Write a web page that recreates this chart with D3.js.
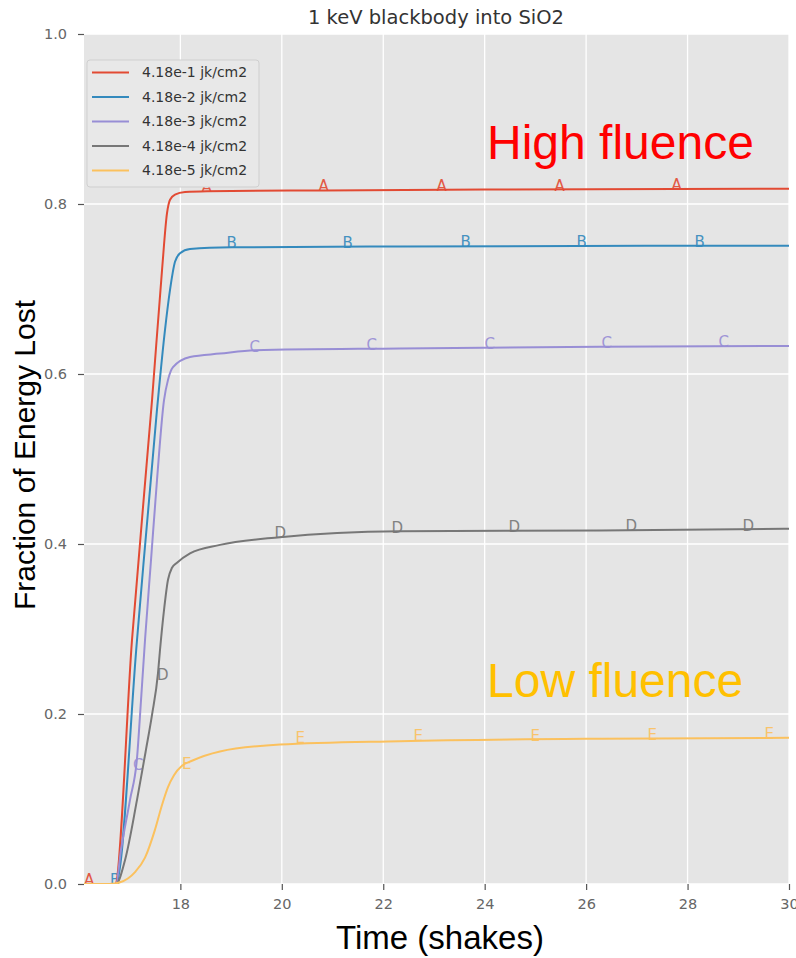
<!DOCTYPE html>
<html><head><meta charset="utf-8">
<script src="https://cdn.jsdelivr.net/npm/d3@7"></script>
<style>body{margin:0;background:#fff}svg{display:block}</style>
</head><body>
<script>
// ---- data ----
const seriesNames = ["A","B","C","D","E"];
const legendLabels = ["4.18e-1 jk/cm2","4.18e-2 jk/cm2","4.18e-3 jk/cm2","4.18e-4 jk/cm2","4.18e-5 jk/cm2"];
const colors = ["#E24A33","#348ABD","#988ED5","#777777","#FBC15E"];
const xTicks = [18,20,22,24,26,28,30];
const yTicks = [0.0,0.2,0.4,0.6,0.8,1.0];

const xA = [16.1,16.711,17.046,17.441,17.638,17.736,17.796,17.894,18.091,18.525,20.832,24.0,30.0];
const yA = [0,0,0.287,0.569,0.722,0.789,0.805,0.811,0.814,0.815,0.816,0.817,0.818];
const xB = [16.1,16.731,17.145,17.539,17.697,17.796,17.894,17.993,18.190,19.018,22.33,30.0];
const yB = [0,0,0.287,0.558,0.652,0.699,0.732,0.742,0.747,0.749,0.750,0.751];
const xC = [16.1,16.731,16.829,17.007,17.145,17.224,17.303,17.421,17.539,17.677,17.756,17.855,18.190,18.781,19.47,22.33,26.27,30.0];
const yC = [0,0,0.040,0.099,0.148,0.216,0.287,0.381,0.475,0.569,0.593,0.608,0.620,0.624,0.628,0.630,0.632,0.633];
const xD = [16.1,16.731,16.908,17.145,17.322,17.441,17.559,17.598,17.677,17.756,17.835,17.934,18.190,18.781,19.964,22.33,26.27,30.0];
const yD = [0,0,0.028,0.099,0.158,0.199,0.248,0.275,0.322,0.358,0.372,0.378,0.389,0.399,0.408,0.415,0.416,0.418];
const xE = [16.1,16.6,16.81,17.106,17.303,17.5,17.638,17.756,17.874,18.032,18.229,18.781,19.964,22.33,26.27,30.0];
const yE = [0,0,0.002,0.014,0.031,0.064,0.093,0.114,0.128,0.139,0.145,0.156,0.164,0.168,0.171,0.172];

// letter markers (data positions)
const mxA = [16.1,18.417,20.723,23.05,25.376,27.683];
const myA = [0,0.815,0.816,0.817,0.817,0.818];
const mxB = [16.613,18.91,21.197,23.523,25.81,28.137];
const myB = [0,0.749,0.750,0.751,0.751,0.751];
const mxC = [17.066,19.363,21.67,23.996,26.303,28.61];
const myC = [0.135,0.627,0.630,0.631,0.632,0.633];
const mxD = [17.539,19.856,22.163,24.469,26.776,29.083];
const myD = [0.241,0.408,0.414,0.415,0.416,0.417];
const mxE = [18.032,20.27,22.596,24.903,27.21,29.517];
const myE = [0.137,0.167,0.169,0.170,0.171,0.172];

const lineX = [xA,xB,xC,xD,xE], lineY = [yA,yB,yC,yD,yE];
const markX = [mxA,mxB,mxC,mxD,mxE], markY = [myA,myB,myC,myD,myE];

// ---- drawing ----
const W = 796, H = 958;
const L = 84, R = 789, T = 34, B = 884;
const svg = d3.select("body").append("svg").attr("width", W).attr("height", H);
const x = d3.scaleLinear().domain([16.1, 30]).range([L, R]);
const y = d3.scaleLinear().domain([0, 1]).range([B, T]);

svg.append("rect").attr("x", L).attr("y", T).attr("width", R - L).attr("height", B - T).attr("fill", "#e5e5e5");

const grid = svg.append("g");
grid.selectAll(".gx").data(xTicks).join("line")
  .attr("x1", d => x(d)).attr("x2", d => x(d)).attr("y1", T).attr("y2", B)
  .attr("stroke", "#fff").attr("stroke-width", 1.3);
grid.selectAll(".gy").data(yTicks).join("line")
  .attr("y1", d => y(d)).attr("y2", d => y(d)).attr("x1", L).attr("x2", R)
  .attr("stroke", "#fff").attr("stroke-width", 1.3);

const xAxis = svg.append("g").attr("transform", `translate(0,${B})`)
  .call(d3.axisBottom(x).tickValues(xTicks).tickFormat(d3.format("d")).tickSize(6).tickPadding(9));
const yAxis = svg.append("g").attr("transform", `translate(${L},0)`)
  .call(d3.axisLeft(y).tickValues(yTicks).tickFormat(d3.format(".1f")).tickSize(6).tickPadding(11));
[xAxis, yAxis].forEach(a => {
  a.select(".domain").remove();
  a.selectAll(".tick line").attr("stroke", "#555").attr("stroke-width", 1.2);
  a.selectAll(".tick text").attr("fill", "#666").attr("font-family", "DejaVu Sans").attr("font-size", 14.5);
});

svg.append("clipPath").attr("id", "pc").append("rect")
  .attr("x", L).attr("y", T - 20).attr("width", R - L).attr("height", B - T + 20);

const plot = svg.append("g").attr("clip-path", "url(#pc)");
const line = d3.line().x(d => x(d[0])).y(d => y(d[1])).curve(d3.curveMonotoneX);

// markers
seriesNames.forEach((name, i) => {
  const pts = markX[i].map((v, j) => [v, markY[i][j]]);
  plot.append("g").selectAll("text").data(pts).join("text")
    .attr("x", d => x(d[0])).attr("y", d => y(d[1]) + 1)
    .attr("font-family", "DejaVu Sans").attr("font-size", 15)
    .attr("fill", colors[i]).attr("opacity", 0.9)
    .text(name);
});
// lines
seriesNames.forEach((name, i) => {
  const pts = lineX[i].map((v, j) => [v, lineY[i][j]]);
  plot.append("path").datum(pts).attr("d", line)
    .attr("fill", "none").attr("stroke", colors[i]).attr("stroke-width", 2)
    .attr("stroke-linejoin", "round");
});

// legend
const lg = svg.append("g");
lg.append("rect").attr("x", 87).attr("y", 60).attr("width", 172).attr("height", 127)
  .attr("rx", 3).attr("fill", "#e8e8e8").attr("stroke", "#cfcfcf");
legendLabels.forEach((lab, i) => {
  const cy = 72.5 + i * 24.5;
  lg.append("line").attr("x1", 92).attr("x2", 129).attr("y1", cy).attr("y2", cy)
    .attr("stroke", colors[i]).attr("stroke-width", 2.2);
  lg.append("text").attr("x", 142).attr("y", cy).attr("dy", "0.35em")
    .attr("font-family", "DejaVu Sans").attr("font-size", 14).attr("fill", "#333").text(lab);
});

// title and labels
svg.append("text").attr("x", 436).attr("y", 24).attr("text-anchor", "middle")
  .attr("font-family", "DejaVu Sans").attr("font-size", 19.5).attr("fill", "#333")
  .text("1 keV blackbody into SiO2");
svg.append("text").attr("x", 440).attr("y", 949).attr("text-anchor", "middle")
  .attr("font-family", "Liberation Sans, Arial").attr("font-size", 33).attr("fill", "#000")
  .text("Time (shakes)");
svg.append("text").attr("transform", "translate(35,455) rotate(-90)").attr("text-anchor", "middle")
  .attr("font-family", "Liberation Sans, Arial").attr("font-size", 30).attr("fill", "#000")
  .text("Fraction of Energy Lost");

svg.append("text").attr("x", 487).attr("y", 159)
  .attr("font-family", "Liberation Sans, Arial").attr("font-size", 48).attr("fill", "#ff0000")
  .text("High fluence");
svg.append("text").attr("x", 487).attr("y", 697)
  .attr("font-family", "Liberation Sans, Arial").attr("font-size", 48).attr("fill", "#ffc000")
  .text("Low fluence");
</script>
</body></html>
